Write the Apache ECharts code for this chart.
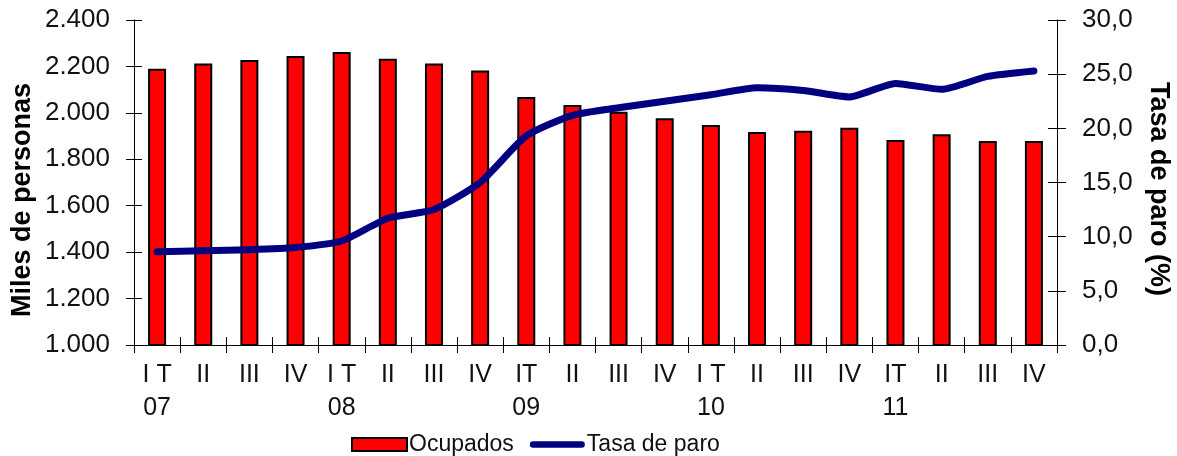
<!DOCTYPE html>
<html>
<head>
<meta charset="utf-8">
<script src="https://cdn.jsdelivr.net/npm/echarts@6/dist/echarts.min.js"></script>
<style>
  html, body { margin: 0; padding: 0; background: #fff; }
  #chart { width: 1177px; height: 456px; }
</style>
</head>
<body>
<div id="chart"></div>
<script>
// quarters, with year on a second line for the first quarter
const quarters = [
  'I T\n07', 'II', 'III', 'IV',
  'I T\n08', 'II', 'III', 'IV',
  'IT\n09', 'II', 'III', 'IV',
  'I T\n10', 'II', 'III', 'IV',
  'IT\n11', 'II', 'III', 'IV'
]
// Ocupados (miles de personas)
const ocupados = [
  2190, 2213, 2228, 2245, 2262, 2233, 2213, 2183,
  2068, 2034, 2005, 1977, 1948, 1918, 1923, 1936,
  1883, 1908, 1879, 1879
]
// Tasa de paro (%)
const tasaParo = [
  8.6, 8.7, 8.8, 9.0, 9.6, 11.7, 12.5, 15.0,
  19.3, 21.2, 21.9, 22.5, 23.1, 23.75, 23.5, 22.9,
  24.15, 23.6, 24.8, 25.3
]

const font = 'Liberation Sans, Arial, sans-serif'
const axisColor = '#000'
const textColor = '#111'
// thick rounded stroke used as legend icon for the line
const lineIcon = 'path://M3.5,0H56.5A3.5,3.5,0,0,1,56.5,7H3.5A3.5,3.5,0,0,1,3.5,0Z'

const chart = echarts.init(document.getElementById('chart'), null, { renderer: 'canvas' })

chart.setOption({
  animation: false,
  grid: { left: 134, right: 120, top: 20, bottom: 111, containLabel: false },
  legend: {
    left: 346,
    top: 428,
    itemGap: 16,
    itemWidth: 55,
    itemHeight: 13,
    symbolKeepAspect: true,
    textStyle: { fontFamily: font, fontSize: 23, color: textColor, padding: [0, 0, 0, -3] },
    data: [
      { name: 'Ocupados', icon: 'rect' },
      { name: 'Tasa de paro', icon: lineIcon, itemStyle: { color: '#000080', borderWidth: 0 } }
    ]
  },
  graphic: [
    {
      type: 'text',
      x: 23, y: 200,
      rotation: Math.PI / 2,
      style: {
        text: 'Miles de personas',
        font: 'bold 27px ' + font,
        fill: '#000',
        align: 'center',
        verticalAlign: 'middle'
      }
    },
    {
      type: 'text',
      x: 1158, y: 189,
      rotation: -Math.PI / 2,
      style: {
        text: 'Tasa de paro (%)',
        font: 'bold 27px ' + font,
        fill: '#000',
        align: 'center',
        verticalAlign: 'middle'
      }
    }
  ],
  xAxis: [
    {
      type: 'category',
      position: 'bottom',
      data: quarters,
      boundaryGap: true,
      axisLine: { lineStyle: { color: axisColor, width: 1 } },
      axisTick: { show: true, length: 8, lineStyle: { color: axisColor } },
      axisLabel: {
        interval: 0,
        margin: 14,
        fontFamily: font,
        fontSize: 25,
        lineHeight: 33,
        color: textColor,
        verticalAlign: 'top'
      },
      splitLine: { show: false }
    },
    {
      type: 'category',
      position: 'bottom',
      data: quarters,
      boundaryGap: true,
      axisLine: { show: false },
      axisTick: { show: true, inside: true, length: 8, lineStyle: { color: axisColor } },
      axisLabel: { show: false },
      splitLine: { show: false }
    }
  ],
  yAxis: [
    {
      type: 'value',
      position: 'left',
      min: 1000, max: 2400, interval: 200,
      axisLine: { show: true, lineStyle: { color: axisColor } },
      axisTick: { show: true, length: 8, lineStyle: { color: axisColor } },
      axisLabel: {
        margin: 24,
        fontFamily: font,
        fontSize: 26,
        color: textColor,
        formatter: v => v.toLocaleString('de-DE')
      },
      splitLine: { show: false }
    },
    {
      type: 'value',
      position: 'right',
      min: 0, max: 30, interval: 5,
      axisLine: { show: true, lineStyle: { color: axisColor } },
      axisTick: { show: true, length: 9, lineStyle: { color: axisColor } },
      axisLabel: {
        margin: 25,
        fontFamily: font,
        fontSize: 26,
        color: textColor,
        formatter: v => v.toFixed(1).replace('.', ',')
      },
      splitLine: { show: false }
    },
    {
      // inner half of the crossing ticks on the left
      type: 'value',
      position: 'left',
      min: 1000, max: 2400, interval: 200,
      axisLine: { show: false },
      axisTick: { show: true, inside: true, length: 8, lineStyle: { color: axisColor } },
      axisLabel: { show: false },
      splitLine: { show: false }
    },
    {
      // inner half of the crossing ticks on the right
      type: 'value',
      position: 'right',
      min: 0, max: 30, interval: 5,
      axisLine: { show: false },
      axisTick: { show: true, inside: true, length: 9, lineStyle: { color: axisColor } },
      axisLabel: { show: false },
      splitLine: { show: false }
    }
  ],
  series: [
    {
      name: 'Ocupados',
      type: 'bar',
      xAxisIndex: 0,
      yAxisIndex: 0,
      data: ocupados,
      barWidth: 18,
      itemStyle: { color: '#ff0000', borderColor: '#000', borderWidth: 2 },
      z: 2
    },
    {
      name: 'Tasa de paro',
      type: 'line',
      xAxisIndex: 0,
      yAxisIndex: 1,
      data: tasaParo,
      smooth: 0.2,
      symbol: 'none',
      lineStyle: { color: '#000080', width: 7, cap: 'round', join: 'round' },
      itemStyle: { color: '#000080' },
      z: 3
    }
  ]
})
</script>
</body>
</html>
